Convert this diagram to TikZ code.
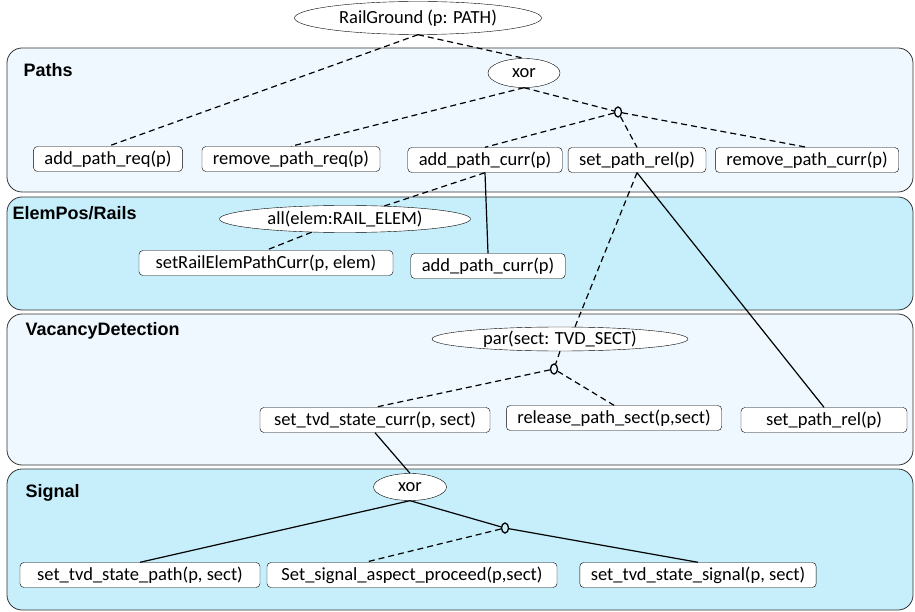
\documentclass[tikz,border=0pt]{standalone}
\usepackage{fontspec}
\setmainfont{Carlito}
\newfontfamily\lblfont{Liberation Sans}
\usetikzlibrary{shapes.geometric}

\definecolor{pale}{RGB}{239,248,254}
\definecolor{sky}{RGB}{198,238,251}

\tikzset{
	op/.style={draw, rounded corners=4pt, fill=white, minimum height=25pt, inner xsep=11pt, inner ysep=0pt, font=\fontsize{18.5}{20}\selectfont},
	grp/.style={draw, ellipse, fill=white, inner sep=0pt, font=\fontsize{18.5}{20}\selectfont},
	knot/.style={draw, ellipse, line width=1.3pt, minimum width=7pt, minimum height=10pt, inner sep=0pt},
	panel/.style={draw=black!80, rounded corners=15pt, line width=0.8pt},
	lbl/.style={anchor=west, font=\lblfont\bfseries\fontsize{18}{20}\selectfont},
	opt/.style={dash pattern=on 6pt off 4pt, line width=1.2pt},
	man/.style={line width=1.2pt}
}

\begin{document}
\begin{tikzpicture}[x=1pt, y=-1pt]
		\useasboundingbox (0,0) rectangle (915,612);

		% Livelli
		\draw[panel, fill=pale] (7,48) rectangle (913,192);
		\draw[panel, fill=sky] (7,197) rectangle (913,310);
		\draw[panel, fill=pale] (7,314) rectangle (913,465);
		\draw[panel, fill=sky] (7,469) rectangle (913,610);
		\node[lbl] (lPaths) at (20,70) {Paths};
		\node[lbl] (lElem) at (9,213) {ElemPos/Rails};
		\node[lbl] (lVac) at (22,331) {VacancyDetection};
		\node[lbl] (lSig) at (22,493) {Signal};

		% Paths
		\node[grp, minimum width=247pt, minimum height=33pt] (rg) at (418,18) {RailGround (p: PATH)};
		\node[grp, minimum width=72pt, minimum height=29pt] (xorP) at (524,73) {xor};
		\node[knot] (kP) at (618,112) {};
		\node[op] (apr) at (108,159) {add\_path\_req(p)};
		\node[op] (rpr) at (291,159) {remove\_path\_req(p)};
		\node[op] (apc) at (485,160) {add\_path\_curr(p)};
		\node[op] (spr) at (637,160) {set\_path\_rel(p)};
		\node[op] (rpc) at (807,160) {remove\_path\_curr(p)};

		% ElemPos/Rails
		\node[grp, minimum width=251pt, minimum height=27pt] (all) at (345,219) {all(elem:RAIL\_ELEM)};
		\node[op, minimum width=254pt] (srep) at (266,263) {setRailElemPathCurr(p, elem)};
		\node[op] (apc2) at (488,266) {add\_path\_curr(p)};

		% VacancyDetection
		\node[grp, minimum width=256pt, minimum height=24pt] (par) at (560,339) {par(sect: TVD\_SECT)};
		\node[knot] (kV) at (554,369) {};
		\node[op, minimum width=230pt] (stsc) at (375,420) {set\_tvd\_state\_curr(p, sect)};
		\node[op] (rps) at (614,418) {release\_path\_sect(p,sect)};
		\node[op, minimum width=166pt] (spr2) at (824,420) {set\_path\_rel(p)};

		% Signal
		\node[grp, minimum width=73pt, minimum height=27pt] (xorS) at (410,487) {xor};
		\node[knot] (kS) at (505,528) {};
		\node[op, minimum width=240pt] (stsp) at (140,575) {set\_tvd\_state\_path(p, sect)};
		\node[op, minimum width=290pt] (ssap) at (412,575) {Set\_signal\_aspect\_proceed(p,sect)};
		\node[op] (stss) at (698,575) {set\_tvd\_state\_signal(p, sect)};

		% Collegamenti
		\draw[opt] (rg.south) -- (apr.north);
		\draw[opt] (rg.south) -- (xorP.north);
		\draw[opt] (xorP.south) -- (rpr.north);
		\draw[opt] (xorP.south) -- (kP);
		\draw[opt] (kP) -- (apc.north);
		\draw[opt] (kP) -- (spr.north);
		\draw[opt] (kP) -- (rpc.north);

		\draw[opt] (apc.south) -- (all);
		\draw[opt] (all) -- (srep.north);
		\draw[man] (apc.south) -- (apc2.north);

		\draw[opt] (spr.south) -- ([xshift=15pt]par.north);
		\draw[man] (spr.south) -- (spr2.north);
		\draw[opt] (par.south) -- (kV);
		\draw[opt] (kV) -- (stsc.north);
		\draw[opt] (kV) -- (rps.north);

		\draw[man] (stsc.south) -- (xorS.north);
		\draw[man] (xorS.south) -- (stsp.north);
		\draw[man] (xorS.south) -- (kS);
		\draw[opt] (kS) -- ([xshift=-47pt]ssap.north);
		\draw[man] (kS) -- (stss.north);
	\end{tikzpicture}
\end{document}
